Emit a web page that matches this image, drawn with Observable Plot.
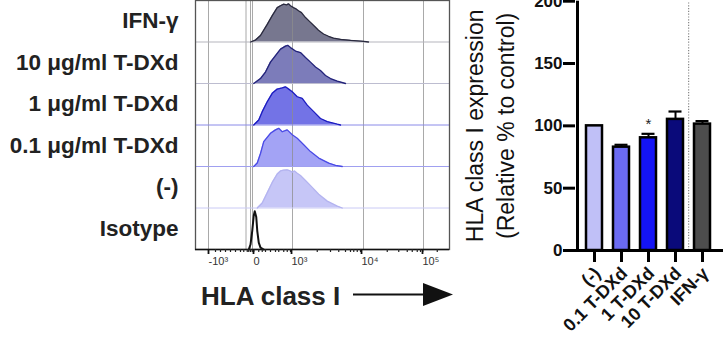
<!DOCTYPE html>
<html><head><meta charset="utf-8">
<script src="https://cdn.jsdelivr.net/npm/d3@7"></script>
<script src="https://cdn.jsdelivr.net/npm/@observablehq/plot@0.6"></script>
<style>
body{margin:0;background:#fff;}
#wrap{position:relative;width:728px;height:346px;overflow:hidden;font-family:"Liberation Sans",Arial,Helvetica,sans-serif;}
#left,#right,#xlab{position:absolute;top:0;}
#left{left:0}
#right{left:460px}
#xlab{left:0;pointer-events:none}
</style></head><body>
<div id="wrap"><div id="left"></div><div id="right"></div>
<svg id="xlab" width="728" height="346">
<text x="201" y="305" font-size="26" font-weight="bold" fill="#222" font-family="Liberation Sans, Arial, sans-serif">HLA class I</text>
<line x1="353" x2="425" y1="294.5" y2="294.5" stroke="#111" stroke-width="2.2"/>
<polygon points="423,283 453,294.5 423,306" fill="#111"/>
</svg>
</div>
<script>
// ---------- Flow histogram panel (x in display channel units, 0–1016) ----------
const rowLabels = ["Isotype", "(-)", "0.1 μg/ml T-DXd", "1 μg/ml T-DXd", "10 μg/ml T-DXd", "IFN-γ"];
const axisTickCh = [60, 240, 392, 672, 916];
const axisTickLabels = ["-10³", "0", "10³", "10⁴", "10⁵"];
const minorTickCh = [80, 100, 120, 140, 160, 180, 193, 207, 213, 220, 227, 233, 253, 267, 280, 300, 320, 333, 353, 367, 380,
  487, 540, 573, 600, 620, 633, 647, 660, 767, 813, 847, 867, 887, 900, 909, 967];
const gridCh = [52, 202, 220, 228, 388, 672, 912];

const isoX = [213, 220, 227, 233, 237, 243, 247, 253, 260, 273];
const isoD = [0, .13, .49, .89, 1, .85, .49, .18, .05, 0];
const negX = [247, 267, 287, 307, 327, 340, 352, 367, 376, 387, 396, 407, 420, 440, 467, 493, 527, 567, 587];
const negD = [0, .13, .40, .67, .89, .97, .99, 1, .98, .94, .97, .91, .85, .72, .54, .36, .18, .05, 0];
const t01X = [233, 247, 260, 273, 300, 320, 333, 347, 367, 387, 407, 433, 460, 493, 533, 560, 587];
const t01D = [0, .09, .34, .65, .87, .96, 1, .91, .96, .83, .74, .57, .39, .22, .09, .03, 0];
const t1X = [233, 253, 267, 287, 307, 327, 347, 360, 373, 387, 407, 427, 447, 473, 500, 527, 567, 580];
const t1D = [0, .13, .35, .61, .83, .94, .97, 1, .94, .87, .74, .70, .52, .35, .17, .09, .02, 0];
const t10X = [233, 244, 260, 280, 300, 320, 340, 360, 369, 380, 400, 420, 440, 460, 480, 500, 520, 540, 567, 600];
const t10D = [0, .05, .13, .30, .56, .73, .90, .98, 1, .94, .85, .81, .68, .56, .43, .34, .21, .13, .06, 0];
const ifnX = [220, 240, 260, 287, 307, 327, 340, 353, 364, 372, 380, 392, 404, 412, 424, 440, 456, 472, 492, 512, 532, 552, 580, 620, 672, 692];
const ifnD = [0, .05, .17, .46, .69, .90, .95, .99, .97, 1, .95, .90, .86, .82, .77, .64, .54, .44, .31, .21, .15, .10, .07, .044, .018, 0];

const histFill = ["none", "#c6c6f7", "#a3a3f5", "#7373e6", "#7c7cba", "#77778f"];
const histStroke = ["#111", "#b4b4f0", "#4a4ae6", "#1c1cc0", "#23237a", "#2a2a3e"];
const rowLineColor = ["#111", "#cacaf5", "#a0a0f0", "#8a8ae8", "#bdbdd0", "#b5b5bd"];

const seriesX = [isoX, negX, t01X, t1X, t10X, ifnX];
const seriesD = [isoD, negD, t01D, t1D, t10D, ifnD];
const PEAK = 0.92;

const areas = [], lines = [];
seriesX.forEach((xs, row) => {
  const data = xs.map((x, i) => ({x, base: row, top: row + seriesD[row][i] * PEAK}));
  if (histFill[row] !== "none") areas.push(Plot.areaY(data, {x: "x", y1: "base", y2: "top", fill: histFill[row]}));
  lines.push(Plot.lineY(data, {x: "x", y: "top", stroke: histStroke[row], strokeWidth: row === 0 ? 2 : 1.3}));
});

const rowLines = [1, 2, 3, 4, 5].map(r => ({row: r, color: rowLineColor[r]}));
const labelRows = rowLabels.map((t, i) => ({t, row: i}));

const left = Plot.plot({
  width: 460, height: 346,
  marginLeft: 195, marginRight: 11, marginTop: 0, marginBottom: 97,
  style: {fontFamily: "Liberation Sans, Arial, sans-serif", background: "transparent", overflow: "visible"},
  x: {domain: [0, 1016], axis: null},
  y: {domain: [0, 6], axis: null},
  color: {type: "identity"},
  marks: [
    ...areas,
    Plot.ruleX(gridCh, {stroke: "#8c8c8c", strokeOpacity: 0.75, strokeWidth: 1}),
    Plot.ruleY(rowLines, {y: "row", stroke: "color", strokeWidth: 1}),
    ...lines,
    Plot.frame({stroke: "#555", strokeWidth: 1.3}),
    Plot.ruleY([0], {stroke: "#111", strokeWidth: 1.6}),
    Plot.axisX({ticks: minorTickCh, tickSize: 3, tickFormat: () => "", stroke: "#222", strokeWidth: 1.2, label: null}),
    Plot.axisX({ticks: axisTickCh, tickSize: 5, tickPadding: 3, strokeWidth: 1.8, stroke: "#111", label: null,
      tickFormat: d => axisTickLabels[axisTickCh.indexOf(d)], textAnchor: "start", dx: -2,
      fontSize: 11, fill: "#333"}),
    Plot.text(labelRows, {y: d => d.row + 0.5, frameAnchor: "left", dx: -17, text: "t",
      textAnchor: "end", fontSize: 22.5, fontWeight: "bold", fill: "#222"})
  ]
});
document.getElementById("left").appendChild(left);

// ---------- Bar chart ----------
const barCats = ["(-)", "0.1 T-DXd", "1 T-DXd", "10 T-DXd", "IFN-γ"];
const barValues = [100, 82.9, 90.4, 105.2, 101.4];
const barErrors = [0, 1.9, 3.2, 6.3, 2.4];
const barColors = ["#c0c0f7", "#6b6bf2", "#1414f5", "#0a0a7a", "#4d4d4d"];
const starCats = ["1 T-DXd"];
const yTicks = [0, 50, 100, 150, 200];

const bars = barCats.map((c, i) => ({cat: c, value: barValues[i], err: barErrors[i], color: barColors[i]}));

const W = 268, ML = 115, MR = 5;
const PI = 0.4234, PO = 0.378, AL = 0.43;
const band = d3.scaleBand(barCats, [ML, W - MR]).paddingInner(PI).paddingOuter(PO).align(AL);
const yAxisDx = ML - (band(barCats[0]) + band.bandwidth() / 2);
const sepDx = -band.step() / 2;

const right = Plot.plot({
  width: W, height: 346,
  marginLeft: ML, marginRight: MR, marginTop: 0.7, marginBottom: 96,
  style: {fontFamily: "Liberation Sans, Arial, sans-serif", background: "transparent", overflow: "visible"},
  x: {domain: barCats, paddingInner: PI, paddingOuter: PO, align: AL, axis: null},
  y: {domain: [0, 200], axis: null},
  color: {type: "identity"},
  marks: [
    Plot.ruleX(["IFN-γ"], {dx: sepDx, y1: 0, y2: 200, stroke: "#888", strokeWidth: 1.2, strokeDasharray: "1.2,1.6"}),
    Plot.ruleX(bars.filter(d => d.err > 0), {x: "cat", y1: "value", y2: d => d.value + d.err, stroke: "#000", strokeWidth: 2}),
    Plot.tickY(bars.filter(d => d.err > 0), {x: "cat", y: d => d.value + d.err, stroke: "#000", strokeWidth: 2.2, insetLeft: 1.5, insetRight: 1.5}),
    Plot.barY(bars, {x: "cat", y: "value", fill: "color", stroke: "#000", strokeWidth: 2.5}),
    Plot.text(bars.filter(d => starCats.includes(d.cat)), {x: "cat", y: d => d.value + d.err, dy: -10, text: () => "*", fontSize: 15, fill: "#222"}),
    Plot.ruleY([0], {stroke: "#000", strokeWidth: 3}),
    Plot.ruleX([barCats[0]], {dx: yAxisDx, y1: 0, y2: 200, stroke: "#000", strokeWidth: 3}),
    Plot.axisY({ticks: yTicks, tickSize: 12, tickPadding: 1, stroke: "#000", strokeWidth: 3, label: null,
      fontSize: 17, fontWeight: "bold", fill: "#111"}),
    Plot.axisX({tickSize: 12, tickPadding: 0, stroke: "#000", strokeWidth: 3, tickFormat: () => "", label: null}),
    Plot.text(barCats, {x: d => d, y: 0, dx: 3, dy: 20, rotate: -45, textAnchor: "end",
      fontSize: 18, fontWeight: "bold", fill: "#111"}),
    Plot.text(["HLA class I expression"], {frameAnchor: "left", dx: -100, rotate: -90, textAnchor: "middle", fontSize: 23, fill: "#111"}),
    Plot.text(["(Relative % to control)"], {frameAnchor: "left", dx: -69, rotate: -90, textAnchor: "middle", fontSize: 23, fill: "#111"})
  ]
});
document.getElementById("right").appendChild(right);
</script>
</body></html>
